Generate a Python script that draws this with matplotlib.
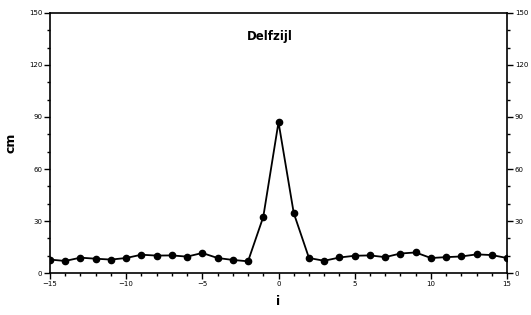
import matplotlib
matplotlib.use('Agg')
import matplotlib.pyplot as plt
from matplotlib.ticker import MultipleLocator

plt.rcParams['font.family'] = ['DejaVu Sans']

# 数据：滞后 i 与对应的 cm 值
lags = list(range(-15, 16))
cm_values = [7.8, 7.0, 8.9, 8.3, 7.8, 8.7, 10.6, 10.1, 10.2, 9.5, 11.6, 8.7, 7.6, 6.8,
             32.4, 87.0, 34.6,
             8.7, 7.1, 9.0, 10.0, 10.2, 9.2, 11.3, 11.9, 8.7, 9.2, 9.6, 10.8, 10.4, 8.7]
x_ticks = [-15, -10, -5, 0, 5, 10, 15]
y_ticks = [0, 30, 60, 90, 120, 150]

fig = plt.figure(figsize=(5.31, 3.15), dpi=100)
ax = fig.add_axes([0.094, 0.133, 0.861, 0.826])

ax.plot(lags, cm_values, color='black', lw=1.3, marker='o', ms=4.5, mfc='black', mec='black')

ax.set_xlim(-15, 15)
ax.set_ylim(0, 150)
ax.set_xticks(x_ticks)
ax.set_yticks(y_ticks)
ax.xaxis.set_minor_locator(MultipleLocator(1))
ax.yaxis.set_minor_locator(MultipleLocator(10))
ax.tick_params(axis='both', which='both', direction='out', labelsize=5,
               left=True, right=True, labelright=True, width=1, pad=1.5)
ax.tick_params(which='major', length=4)
ax.tick_params(which='minor', length=2)
for s in ax.spines.values():
    s.set_linewidth(1.2)

ax.set_xlabel('i', fontsize=9, fontweight='bold', labelpad=6)
ax.set_ylabel('cm', fontsize=9, fontweight='bold', labelpad=8)
ax.text(0.43, 0.91, 'Delfzijl', transform=ax.transAxes, ha='left', va='center',
        fontsize=8.5, fontweight='bold')

fig.savefig('out.png', dpi=100)
